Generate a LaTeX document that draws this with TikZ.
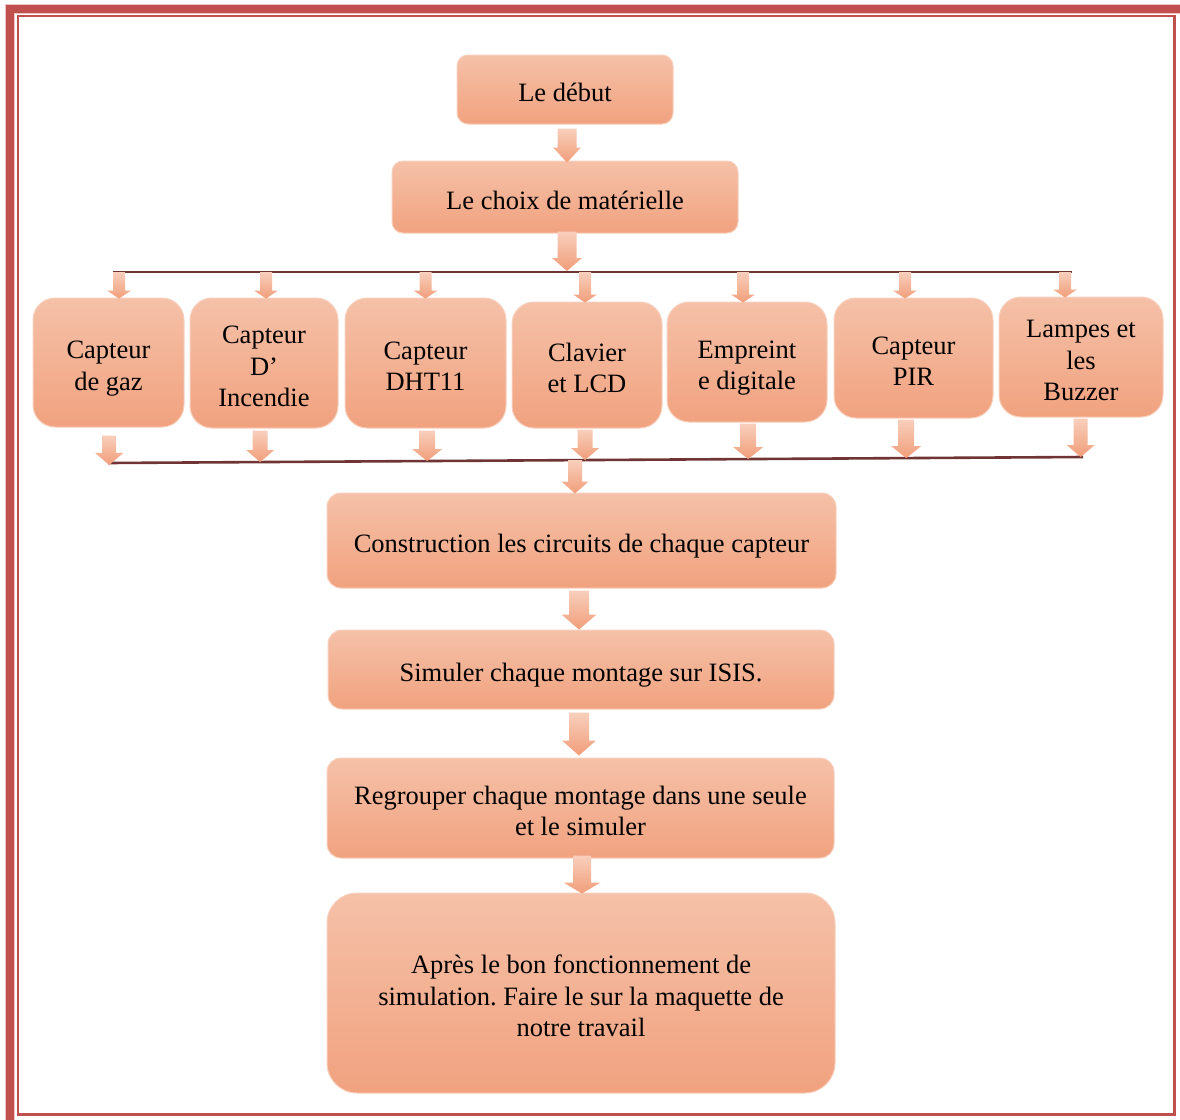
\documentclass[tikz,border=0pt]{standalone}
\usepackage{fontspec}
\setmainfont{Liberation Serif}
\frenchspacing
\usetikzlibrary{calc}

\definecolor{boxtop}{RGB}{245,193,168}
\definecolor{boxbot}{RGB}{241,162,127}
\definecolor{boxedge}{RGB}{247,208,190}
\definecolor{arrtop}{RGB}{248,207,188}
\definecolor{arrbot}{RGB}{241,158,122}
\definecolor{barcol}{RGB}{112,52,52}
\definecolor{framered}{RGB}{192,80,77}
\definecolor{framelight}{RGB}{238,196,196}

\tikzset{
  stepbox/.style={rectangle, rounded corners=#1, top color=boxtop, bottom color=boxbot,
    draw=boxedge, line width=1pt, align=center, inner sep=0pt,
    font=\fontsize{26.5}{31.5}\selectfont, text height=31pt, text depth=7pt},
  stepbox/.default=12pt,
  twolines/.style={text height=62.5pt},
  threelines/.style={text height=94pt},
  arrowshade/.style={top color=arrtop, bottom color=arrbot},
  barline/.style={draw=barcol, line width=2.6pt}
}

% block arrow: tail point, tip point, shaft half width, head half width, head length
\newcommand\blockarrow[5]{%
  \path[arrowshade] let \p1=(#1), \p2=(#2) in
    ({\x2-#3pt},\y1) -- ({\x2-#3pt},{\y2+#5pt}) -- ({\x2-#4pt},{\y2+#5pt}) -- (\x2,\y2)
    -- ({\x2+#4pt},{\y2+#5pt}) -- ({\x2+#3pt},{\y2+#5pt}) -- ({\x2+#3pt},\y1) -- cycle;}

\begin{document}
\begin{tikzpicture}[x=1pt,y=-1pt]
\useasboundingbox (0,0) rectangle (1180,1119);
\clip (0,0) rectangle (1180,1119);
\fill[white] (0,0) rectangle (1180,1119);

% page frame
\draw[framelight, line width=10pt] (10,9) rectangle (1200,1140);
\draw[framered, line width=7.5pt] (10,9) rectangle (1200,1140);
\draw[framered, line width=2.6pt] (18,16) rectangle (1174.5,1114.5);

% main chain, top
\node[stepbox=11pt, minimum width=216pt, minimum height=69pt] (debut) at (565,89.5) {Le début};
\node[stepbox=11pt, minimum width=346pt, minimum height=72pt] (choix) at (565,197) {Le choix de matérielle};

% component row
\node[stepbox=22pt, twolines, minimum width=151pt, minimum height=129pt] (g1) at (108.5,362.5) {Capteur\\de gaz};
\node[stepbox=22pt, threelines, minimum width=148pt, minimum height=130pt] (g2) at (264,363) {Capteur\\D’\\Incendie};
\node[stepbox=22pt, twolines, minimum width=161pt, minimum height=130pt] (g3) at (425.5,363) {Capteur\\DHT11};
\node[stepbox=22pt, twolines, minimum width=150pt, minimum height=126pt] (g4) at (587,365) {Clavier\\et LCD};
\node[stepbox=22pt, twolines, minimum width=160pt, minimum height=120pt] (g5) at (747,362) {Empreint\\e digitale};
\node[stepbox=22pt, twolines, minimum width=159pt, minimum height=120pt] (g6) at (913.5,358) {Capteur\\PIR};
\node[stepbox=22pt, threelines, minimum width=164pt, minimum height=120pt] (g7) at (1081,357) {Lampes et\\les\\Buzzer};

% main chain, bottom
\node[stepbox=14pt, minimum width=509pt, minimum height=95pt] (constr) at (581.5,540.5) {Construction les circuits de chaque capteur};
\node[stepbox=14pt, minimum width=506pt, minimum height=79pt] (simul) at (581,669.5) {Simuler chaque montage sur ISIS.};
\node[stepbox=14pt, twolines, minimum width=507pt, minimum height=100pt] (regr) at (580.5,808) {Regrouper chaque montage dans une seule\\et le simuler};
\node[stepbox=30pt, threelines, minimum width=508pt, minimum height=200pt] (final) at (581,993) {Après le bon fonctionnement de\\simulation. Faire le sur la maquette de\\notre travail};

% distribution bars
\coordinate (bar1l) at (113,272);
\coordinate (bar1r) at (1072,272);
\coordinate (bar2l) at (108,463);
\coordinate (bar2r) at (1083,457);
\draw[barline] (bar1l) -- (bar1r);
\draw[barline] (bar2l) -- (bar2r);

% arrows of the chain
\blockarrow{$(debut.south)+(2,4)$}{$(choix.north)+(2,2)$}{9.5}{14}{15}
\blockarrow{$(choix.south)+(2,-2)$}{$(choix.south |- bar1l)+(2,-1)$}{9.5}{15}{13}

% arrows from the upper bar to each component
\blockarrow{$(g1.north |- bar1l)+(10.5,0)$}{$(g1.north)+(10.5,1)$}{6}{12}{8}
\blockarrow{$(g2.north |- bar1l)+(2,0)$}{$(g2.north)+(2,1)$}{6}{12}{8}
\blockarrow{$(g3.north |- bar1l)+(0,0)$}{$(g3.north)+(0,1)$}{6}{12}{8}
\blockarrow{$(g4.north |- bar1l)+(-2,0)$}{$(g4.north)+(-2,1)$}{6}{12}{8}
\blockarrow{$(g5.north |- bar1l)+(-4,0)$}{$(g5.north)+(-4,1)$}{6}{12}{8}
\blockarrow{$(g6.north |- bar1l)+(-8.5,0)$}{$(g6.north)+(-8.5,1)$}{6}{12}{8}
\blockarrow{$(g7.north |- bar1l)+(-16,0)$}{$(g7.north)+(-16,1)$}{6}{12}{8}

% arrows from each component to the lower bar
\coordinate (t1) at ($(g1.south)+(0.5,0)$);
\coordinate (t2) at ($(g2.south)+(-4,0)$);
\coordinate (t3) at ($(g3.south)+(1.5,0)$);
\coordinate (t4) at ($(g4.south)+(-2,0)$);
\coordinate (t5) at ($(g5.south)+(1,0)$);
\coordinate (t6) at ($(g6.south)+(-7.5,0)$);
\coordinate (t7) at ($(g7.south)+(-0.5,0)$);
\blockarrow{$(t1)+(0,8)$}{$(bar2l)!(t1)!(bar2r)+(0,2)$}{7}{14}{12}
\blockarrow{$(t2)+(0,2)$}{$(bar2l)!(t2)!(bar2r)$}{7.5}{14}{12}
\blockarrow{$(t3)+(0,2)$}{$(bar2l)!(t3)!(bar2r)$}{8}{15}{12}
\blockarrow{$(t4)+(0,1)$}{$(bar2l)!(t4)!(bar2r)$}{7.5}{14}{12}
\blockarrow{$(t5)+(0,1)$}{$(bar2l)!(t5)!(bar2r)$}{8}{15}{12}
\blockarrow{$(t6)+(0,1)$}{$(bar2l)!(t6)!(bar2r)$}{8}{15}{12}
\blockarrow{$(t7)+(0,1)$}{$(bar2l)!(t7)!(bar2r)$}{7}{14}{12}

% lower chain arrows
\blockarrow{$(constr.north |- bar2l)+(-6.5,-3)$}{$(constr.north)+(-6.5,1)$}{7}{13.5}{12}
\blockarrow{$(constr.south)+(-2.5,2)$}{$(simul.north)+(-2,0)$}{10}{17.5}{15}
\blockarrow{$(simul.south)+(-2,3)$}{$(regr.north)+(-1.5,-2)$}{10}{17}{15}
\blockarrow{$(regr.south)+(1.5,-3)$}{$(final.north)+(1,1)$}{9}{18.5}{11}
\end{tikzpicture}
\end{document}
